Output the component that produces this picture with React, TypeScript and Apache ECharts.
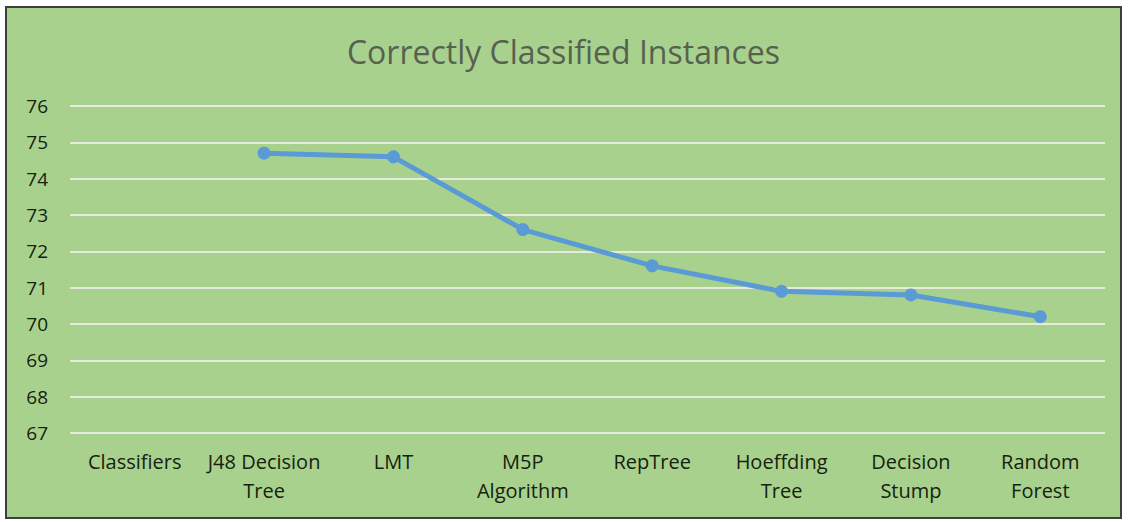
import React, { useEffect, useRef } from "react";
import * as echarts from "echarts";

const categories = [
  "Classifiers",
  "J48 Decision\nTree",
  "LMT",
  "M5P\nAlgorithm",
  "RepTree",
  "Hoeffding\nTree",
  "Decision\nStump",
  "Random\nForest",
];
const values: (number | null)[] = [null, 74.7, 74.6, 72.6, 71.6, 70.9, 70.8, 70.2];
const yMin = 67;
const yMax = 76;

export default function App() {
  const ref = useRef<HTMLDivElement>(null);
  useEffect(() => {
    if (!ref.current) return;
    const chart = echarts.init(ref.current, undefined, { renderer: "svg" });
    chart.setOption({
      animation: false,
      backgroundColor: "#a9d18e",
      title: {
        text: "Correctly Classified Instances",
        left: "center",
        top: 22,
        textStyle: {
          fontFamily: "Open Sans",
          fontSize: 32,
          fontWeight: "normal",
          color: "#56624f",
        },
      },
      grid: { left: 63, right: 15, top: 98, bottom: 84, containLabel: false },
      xAxis: {
        type: "category",
        data: categories,
        boundaryGap: true,
        axisLine: { show: false },
        axisTick: { show: false },
        axisLabel: {
          interval: 0,
          margin: 14,
          fontFamily: "Open Sans",
          fontSize: 20,
          lineHeight: 29,
          color: "#16220f",
        },
      },
      yAxis: {
        type: "value",
        min: yMin,
        max: yMax,
        interval: 1,
        axisLine: { show: false },
        axisTick: { show: false },
        axisLabel: {
          margin: 22,
          fontFamily: "Open Sans",
          fontSize: 19,
          color: "#16220f",
        },
        splitLine: { lineStyle: { color: "#e6ebdc", width: 2 } },
      },
      series: [
        {
          type: "line",
          data: values,
          connectNulls: false,
          symbol: "circle",
          symbolSize: 13,
          lineStyle: { color: "#5b9bd5", width: 5 },
          itemStyle: { color: "#5b9bd5" },
        },
      ],
    });
    return () => chart.dispose();
  }, []);
  return (
    <div style={{ position: "fixed", left: 0, top: 0, width: 1128, height: 522, background: "#ffffff" }}>
      <div
        style={{
          position: "absolute",
          left: 5,
          top: 6,
          width: 1117,
          height: 513,
          border: "2px solid #3f3f3f",
          boxSizing: "border-box",
        }}
      >
        <div ref={ref} style={{ width: 1113, height: 509 }} />
      </div>
    </div>
  );
}
